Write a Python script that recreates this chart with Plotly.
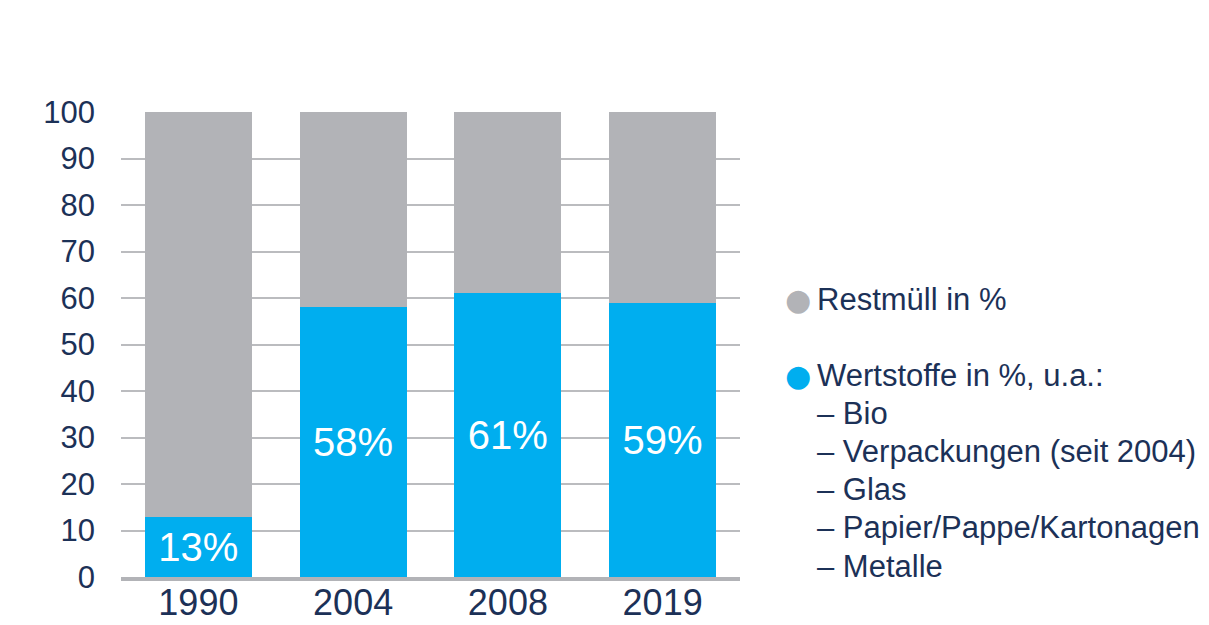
"""Stacked bar chart: Restmüll vs Wertstoffe share per year."""

import plotly.graph_objects as go

NAVY = "#1c3157"
GREY = "#b2b3b7"
BLUE = "#00aeef"
GRID = "#bbbcbf"
FONT = "Liberation Sans, Arial, sans-serif"

years = ["1990", "2004", "2008", "2019"]
wertstoffe = [13, 58, 61, 59]
restmuell = [87, 42, 39, 41]
y_ticks = [0, 10, 20, 30, 40, 50, 60, 70, 80, 90, 100]

legend_rest = "Restmüll in %"
legend_wert = "Wertstoffe in %, u.a.:"
wert_items = ["Bio", "Verpackungen (seit 2004)", "Glas", "Papier/Pappe/Kartonagen", "Metalle"]

fig = go.Figure()

fig.add_trace(go.Bar(
    x=years, y=wertstoffe, name=legend_wert,
    marker=dict(color=BLUE, line_width=0),
    text=[f"{v}%" for v in wertstoffe],
    textposition="inside", insidetextanchor="middle",
    textfont=dict(family=FONT, size=40, color="white"),
    showlegend=False,
))
fig.add_trace(go.Bar(
    x=years, y=restmuell, name=legend_rest,
    marker=dict(color=GREY, line_width=0),
    showlegend=False,
))

# ── legend drawn as text: one annotation per line, dots in front ───────────
PLOT_TOP, PLOT_BOT = 112, 577          # pixel rows of 100 and 0
LINE_H = 38.15
first_y = 299


def paper_y(px):
    return (PLOT_BOT - px) / (PLOT_BOT - PLOT_TOP)


legend_lines = [(0, legend_rest, GREY), (2, legend_wert, BLUE)]
legend_lines += [(3 + i, f"– {t}", None) for i, t in enumerate(wert_items)]

for slot, label, dot in legend_lines:
    y = paper_y(first_y + slot * LINE_H)
    fig.add_annotation(
        xref="paper", yref="paper", x=1.121, y=y,
        xanchor="left", yanchor="middle", showarrow=False,
        text=label, font=dict(family=FONT, size=31, color=NAVY),
    )
    if dot:
        fig.add_annotation(
            xref="paper", yref="paper", x=1.069, y=y,
            xanchor="left", yanchor="middle", showarrow=False,
            text="●", font=dict(family="DejaVu Sans", size=30, color=dot),
        )

fig.update_layout(
    barmode="stack",
    bargap=0.31,
    width=1209, height=625,
    paper_bgcolor="white", plot_bgcolor="white",
    margin=dict(l=121, r=469, t=PLOT_TOP, b=625 - PLOT_BOT),
    font=dict(family=FONT, color=NAVY),
)
fig.update_yaxes(
    range=[0, 100], tickvals=y_ticks,
    showgrid=True, gridcolor=GRID, gridwidth=2,
    zeroline=False, showline=False,
    tickfont=dict(size=31, color=NAVY),
    ticklabelstandoff=25,
    automargin=False,
)
fig.update_xaxes(
    showline=True, linecolor=GREY, linewidth=4,
    tickfont=dict(size=36, color=NAVY),
    ticklabelstandoff=-9,
    automargin=False,
)

# page body has a default 8px margin; drop it so the figure fills the window
fig.write_html(
    "out.html",
    config={"displayModeBar": False},
    post_script="document.body.style.margin = '0';",
)
